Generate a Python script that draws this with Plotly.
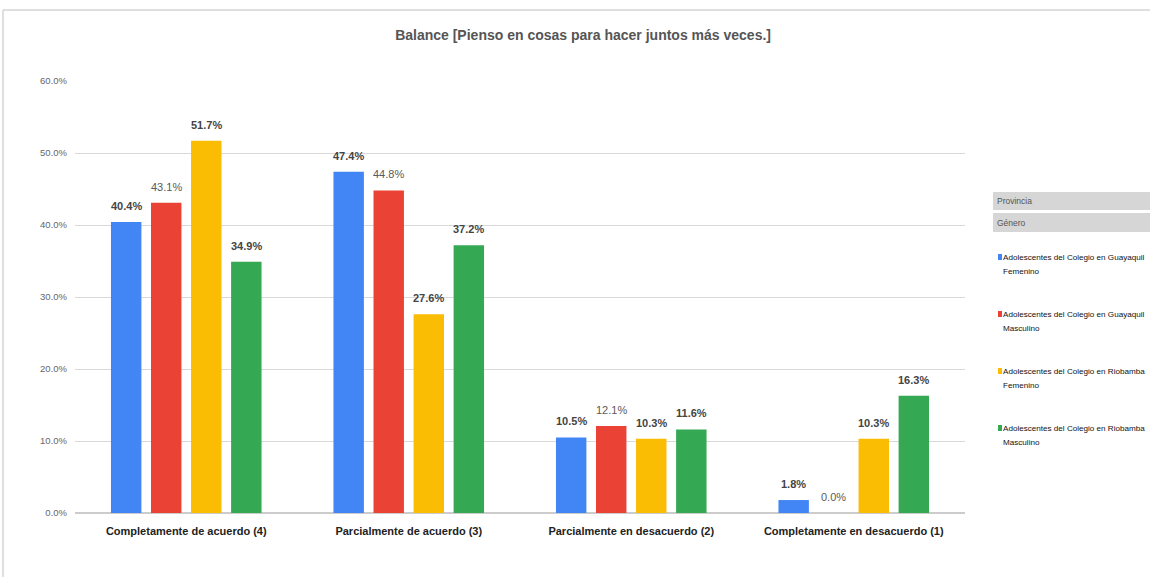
import plotly.graph_objects as go

# Survey answers (x axis) and the share of each group choosing them
categories = [
    "Completamente de acuerdo (4)",
    "Parcialmente de acuerdo (3)",
    "Parcialmente en desacuerdo (2)",
    "Completamente en desacuerdo (1)",
]
series_names = [
    "Adolescentes del Colegio en Guayaquil<br>Femenino",
    "Adolescentes del Colegio en Guayaquil<br>Masculino",
    "Adolescentes del Colegio en Riobamba<br>Femenino",
    "Adolescentes del Colegio en Riobamba<br>Masculino",
]
guayaquil_fem = [0.404, 0.474, 0.105, 0.018]
guayaquil_masc = [0.431, 0.448, 0.121, 0.000]
riobamba_fem = [0.517, 0.276, 0.103, 0.103]
riobamba_masc = [0.349, 0.372, 0.116, 0.163]
tick_values = [0, 0.1, 0.2, 0.3, 0.4, 0.5, 0.6]

series_values = [guayaquil_fem, guayaquil_masc, riobamba_fem, riobamba_masc]
colors = ["#4285F4", "#EA4335", "#FBBC04", "#34A853"]
label_bold = [True, False, True, True]

FONT = "Liberation Sans, Arial, sans-serif"

W, H = 1150, 577
L, R, T, B = 75, 185, 81, 64
PW, PH = W - L - R, H - T - B
BARGAP, GROUPGAP = 0.28, 0.24
n_series = len(series_values)
slot_px = PW / len(categories) * (1 - BARGAP) / n_series


def px_x(x):
    return (x - L) / PW


def px_y(y):
    return (H - B - y) / PH


fig = go.Figure()
annotations = []
for i, (name, vals, col, bold) in enumerate(zip(series_names, series_values, colors, label_bold)):
    fig.add_trace(go.Bar(
        x=categories, y=vals, name=name,
        marker=dict(color=col, line=dict(width=0)),
        showlegend=False,
    ))
    # value labels sitting above each bar
    for cat, v in zip(categories, vals):
        annotations.append(dict(
            x=cat, y=v, xref="x", yref="y", text=f"{v*100:.1f}%",
            showarrow=False, xanchor="center", yanchor="bottom",
            xshift=(i - (n_series - 1) / 2) * slot_px, yshift=8,
            font=dict(family=FONT, size=11,
                      color="#444444" if bold else "#5a5a5a",
                      weight="bold" if bold else "normal"),
        ))

shapes = []

# outer frame lines
shapes.append(dict(type="line", xref="paper", yref="paper",
                   x0=px_x(3), x1=px_x(1150), y0=px_y(10), y1=px_y(10),
                   line=dict(color="#d4d4d4", width=1.5)))
shapes.append(dict(type="line", xref="paper", yref="paper",
                   x0=px_x(3), x1=px_x(3), y0=px_y(10), y1=px_y(577),
                   line=dict(color="#d4d4d4", width=1.5)))

# filter header boxes
for label, y0, y1 in [("Provincia", 192, 210), ("Género", 213, 232)]:
    shapes.append(dict(type="rect", xref="paper", yref="paper",
                       x0=px_x(993), x1=px_x(1150), y0=px_y(y1), y1=px_y(y0),
                       fillcolor="#d6d6d6", line=dict(width=0), layer="below"))
    annotations.append(dict(text=label, xref="paper", yref="paper",
                            x=px_x(995), y=px_y((y0 + y1) / 2),
                            xanchor="left", yanchor="middle", showarrow=False,
                            font=dict(family=FONT, size=8.5, color="#555555")))

# legend entries, two lines each
legend_mid = [257, 314, 371, 428]
for name, col, yy in zip(series_names, colors, legend_mid):
    shapes.append(dict(type="rect", xref="paper", yref="paper",
                       x0=px_x(998), x1=px_x(1002), y0=px_y(yy + 3), y1=px_y(yy - 3),
                       fillcolor=col, line=dict(width=0)))
    for k, line in enumerate(name.split("<br>")):
        annotations.append(dict(text=line, xref="paper", yref="paper",
                                x=px_x(1001), y=px_y(yy + 14 * k),
                                xanchor="left", yanchor="middle", align="left",
                                showarrow=False,
                                font=dict(family=FONT, size=8.1, color="#111111")))

fig.update_layout(
    width=W, height=H,
    margin=dict(l=L, r=R, t=T, b=B, autoexpand=False),
    paper_bgcolor="white", plot_bgcolor="white",
    barmode="group", bargap=BARGAP, bargroupgap=GROUPGAP,
    title=dict(text="<b>Balance [Pienso en cosas para hacer juntos más veces.]</b>",
               x=0.507, xanchor="center", y=1 - 35 / H, yanchor="middle",
               font=dict(family=FONT, size=14, color="#555555")),
    xaxis=dict(showgrid=False, showline=False, ticks="", tickangle=0,
               tickfont=dict(family=FONT, size=11, color="#222222", weight="bold"),
               ticklabelstandoff=10),
    yaxis=dict(range=[0, 0.6], tickvals=tick_values, tickformat=".1%",
               showgrid=True, gridcolor="#d9d9d9", gridwidth=1,
               zeroline=True, zerolinecolor="#cccccc", zerolinewidth=1.5,
               showline=False, ticks="",
               tickfont=dict(family=FONT, size=9.5, color="#666666"),
               ticklabelstandoff=7),
    shapes=shapes, annotations=annotations,
    font=dict(family=FONT),
)

fig.write_html("out.html")
